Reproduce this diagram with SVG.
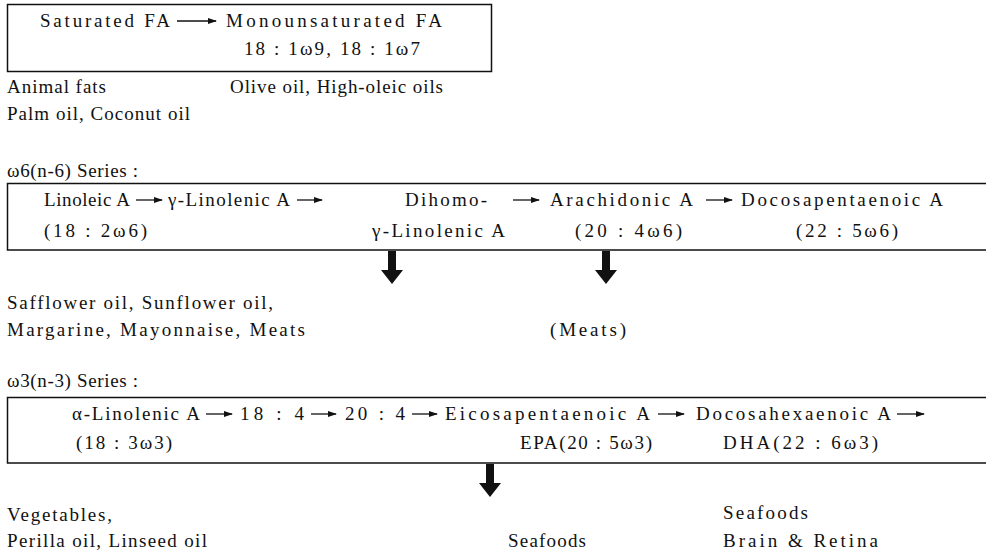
<svg xmlns="http://www.w3.org/2000/svg" width="986" height="557" viewBox="0 0 986 557">
<defs>
<marker id="ah" markerWidth="9" markerHeight="6" refX="8" refY="3" orient="auto" markerUnits="userSpaceOnUse"><path d="M0,0 L9,3 L0,6 Z" fill="#111"/></marker>
</defs>
<style>
text{font-family:"Liberation Serif","DejaVu Serif",serif;font-size:19px;fill:#111;}
.box{fill:none;stroke:#111;stroke-width:1.5;}
.flow{stroke:#111;stroke-width:1.3;fill:none;marker-end:url(#ah);}
.big{fill:#111;stroke:none;}
</style>
<rect width="986" height="557" fill="#fff"/>

<g id="mufa-box">
<rect class="box" x="7.5" y="4.5" width="484" height="67"/>
<g id="sat"><text x="40" y="27" textLength="130" lengthAdjust="spacing">Saturated FA</text></g>
<g id="mufa"><text x="226" y="27" textLength="216" lengthAdjust="spacing">Monounsaturated FA</text>
<text x="244" y="55" textLength="176" lengthAdjust="spacing">18 : 1ω9, 18 : 1ω7</text></g>
</g>
<g id="sat-src"><text x="7" y="93" textLength="99" lengthAdjust="spacing">Animal fats</text>
<text x="7" y="120" textLength="183" lengthAdjust="spacing">Palm oil, Coconut oil</text></g>
<g id="mufa-src"><text x="230" y="93" textLength="213" lengthAdjust="spacing">Olive oil, High-oleic oils</text></g>

<g id="w6-label"><text x="7" y="177" textLength="131" lengthAdjust="spacing">ω6(n-6) Series :</text></g>
<g id="w6-box">
<rect class="box" x="7.5" y="183.5" width="990" height="66.5"/>
<g id="la"><text x="44" y="206" textLength="86" lengthAdjust="spacing">Linoleic A</text>
<text x="44" y="237" textLength="103" lengthAdjust="spacing">(18 : 2ω6)</text></g>
<g id="gla"><text x="168" y="206" textLength="122" lengthAdjust="spacing">γ-Linolenic A</text></g>
<g id="dgla"><text x="405" y="206" textLength="82" lengthAdjust="spacing">Dihomo-</text>
<text x="372" y="237" textLength="133" lengthAdjust="spacing">γ-Linolenic A</text></g>
<g id="aa"><text x="550" y="206" textLength="143" lengthAdjust="spacing">Arachidonic A</text>
<text x="575" y="237" textLength="107" lengthAdjust="spacing">(20 : 4ω6)</text></g>
<g id="dpa"><text x="741" y="206" textLength="202" lengthAdjust="spacing">Docosapentaenoic A</text>
<text x="796" y="237" textLength="102" lengthAdjust="spacing">(22 : 5ω6)</text></g>
</g>
<g id="w6-src1"><text x="7" y="309" textLength="266" lengthAdjust="spacing">Safflower oil, Sunflower oil,</text>
<text x="7" y="336" textLength="298" lengthAdjust="spacing">Margarine, Mayonnaise, Meats</text></g>
<g id="w6-src2"><text x="550" y="336" textLength="76" lengthAdjust="spacing">(Meats)</text></g>

<g id="w3-label"><text x="7" y="387" textLength="131" lengthAdjust="spacing">ω3(n-3) Series :</text></g>
<g id="w3-box">
<rect class="box" x="7.5" y="397.5" width="990" height="65.5"/>
<g id="ala"><text x="72" y="420" textLength="128" lengthAdjust="spacing">α-Linolenic A</text>
<text x="76" y="449" textLength="96" lengthAdjust="spacing">(18 : 3ω3)</text></g>
<g id="sda"><text x="240" y="420" textLength="64" lengthAdjust="spacing">18 : 4</text></g>
<g id="eta"><text x="345" y="420" textLength="60" lengthAdjust="spacing">20 : 4</text></g>
<g id="epa"><text x="445" y="420" textLength="205" lengthAdjust="spacing">Eicosapentaenoic A</text>
<text x="520" y="449" textLength="132" lengthAdjust="spacing">EPA(20 : 5ω3)</text></g>
<g id="dha"><text x="696" y="420" textLength="195" lengthAdjust="spacing">Docosahexaenoic A</text>
<text x="723" y="449" textLength="155" lengthAdjust="spacing">DHA(22 : 6ω3)</text></g>
</g>
<g id="w3-src1"><text x="7" y="521" textLength="105" lengthAdjust="spacing">Vegetables,</text>
<text x="7" y="547" textLength="200" lengthAdjust="spacing">Perilla oil, Linseed oil</text></g>
<g id="w3-src2"><text x="508" y="547" textLength="78" lengthAdjust="spacing">Seafoods</text></g>
<g id="w3-src3"><text x="723" y="519" textLength="85" lengthAdjust="spacing">Seafoods</text>
<text x="723" y="547" textLength="155" lengthAdjust="spacing">Brain &amp; Retina</text></g>

<g id="connectors">
<line class="flow" x1="177" y1="21" x2="216" y2="21"/>
<line class="flow" x1="136" y1="200" x2="162" y2="200"/>
<line class="flow" x1="297" y1="200" x2="322" y2="200"/>
<line class="flow" x1="513" y1="200" x2="539" y2="200"/>
<line class="flow" x1="706" y1="200" x2="732" y2="200"/>
<line class="flow" x1="206" y1="414" x2="232" y2="414"/>
<line class="flow" x1="311" y1="414" x2="336" y2="414"/>
<line class="flow" x1="412" y1="414" x2="437" y2="414"/>
<line class="flow" x1="658" y1="414" x2="684" y2="414"/>
<line class="flow" x1="897" y1="414" x2="924" y2="414"/>
<path class="big" d="M388,251 H396 V270 H403 L392,284 L381,270 H388 Z"/>
<path class="big" d="M602,251 H610 V270 H617 L606,284 L595,270 H602 Z"/>
<path class="big" d="M486,464 H494 V483 H501 L490,497 L479,483 H486 Z"/>
</g>
</svg>
